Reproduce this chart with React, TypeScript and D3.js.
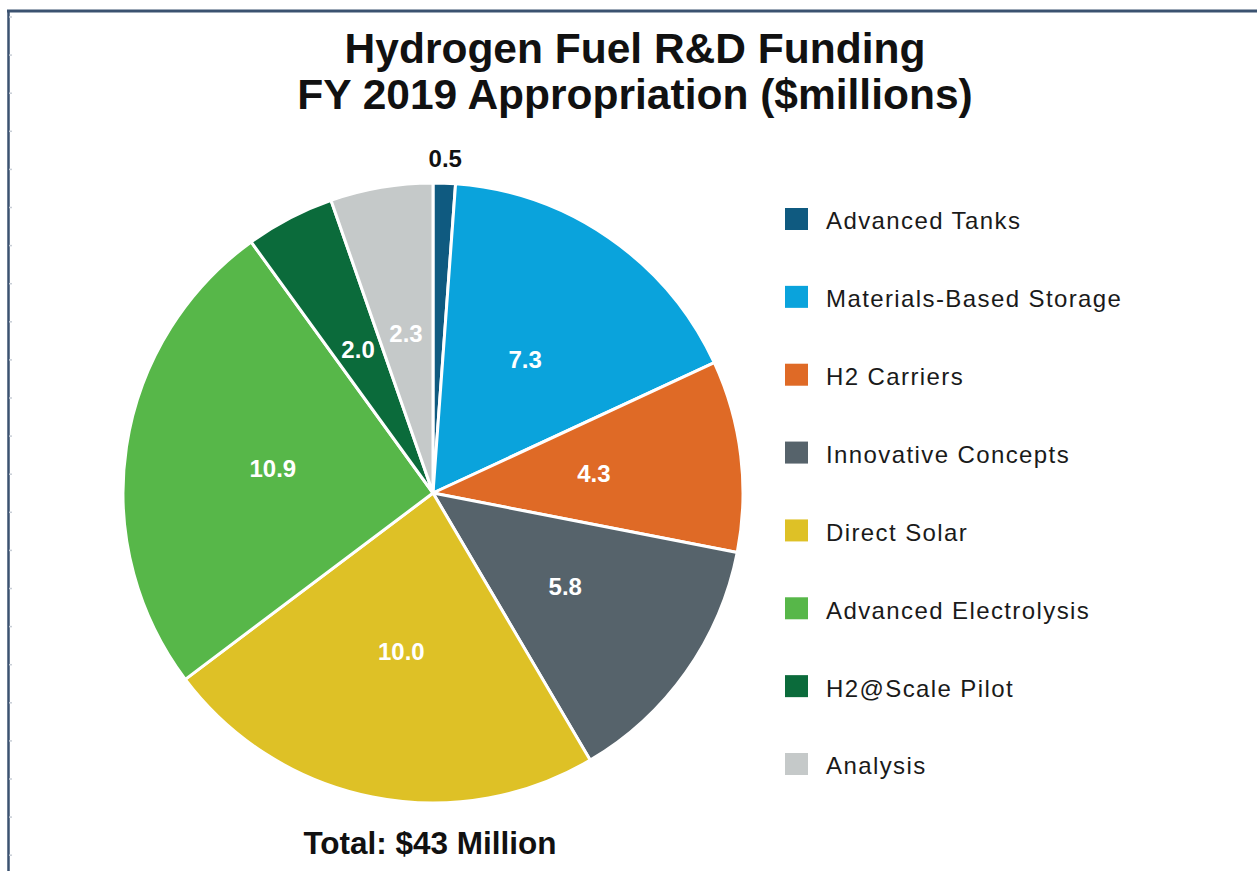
import React from "react";
import * as d3 from "d3";

const categories = [
  "Advanced Tanks",
  "Materials-Based Storage",
  "H2 Carriers",
  "Innovative Concepts",
  "Direct Solar",
  "Advanced Electrolysis",
  "H2@Scale Pilot",
  "Analysis",
];
const values = [0.5, 7.3, 4.3, 5.8, 10.0, 10.9, 2.0, 2.3];
const valueLabels = ["0.5", "7.3", "4.3", "5.8", "10.0", "10.9", "2.0", "2.3"];
const colors = ["#0f5a80", "#0aa3dc", "#df6a26", "#56636b", "#dec126", "#57b749", "#0b6b3b", "#c5c9c9"];
const titleLines = ["Hydrogen Fuel R&D Funding", "FY 2019 Appropriation ($millions)"];
const totalText = "Total: $43 Million";

const W = 1257;
const H = 871;
const cx = 433;
const cy = 493;
const R = 310;

export default function App() {
  const pie = d3.pie<number>().sort(null).value((d) => d);
  const arcs = pie(values);
  const arcGen = d3.arc<d3.PieArcDatum<number>>().innerRadius(0).outerRadius(R);
  const labelArc = d3.arc<d3.PieArcDatum<number>>().innerRadius(162).outerRadius(162);
  const outerArc = d3.arc<d3.PieArcDatum<number>>().innerRadius(335).outerRadius(335);
  const legendY = d3.scaleLinear().domain([0, categories.length - 1]).range([221, 766]);
  const ticks = d3.range(17, H, 38.1);

  return (
    <svg
      width={W}
      height={H}
      style={{ position: "absolute", left: 0, top: 0, background: "#fff" }}
      fontFamily="'Liberation Sans', Arial, sans-serif"
    >
      <rect x={0} y={0} width={W} height={H} fill="#fff" />
      {/* frame */}
      <line x1={8.5} y1={10} x2={8.5} y2={H} stroke="#3b5270" strokeWidth={2.5} />
      <line x1={7} y1={11} x2={W} y2={11} stroke="#3b5270" strokeWidth={3} />
      {ticks.map((t, i) => (
        <line key={i} x1={9} x2={12} y1={t} y2={t} stroke="#c8ced6" strokeWidth={1.5} />
      ))}
      {/* title */}
      {titleLines.map((t, i) => (
        <text
          key={i}
          x={635}
          y={63 + i * 46}
          textAnchor="middle"
          fontSize={42.5}
          fontWeight="bold"
          fill="#111"
        >
          {t}
        </text>
      ))}
      {/* pie */}
      <g transform={`translate(${cx},${cy})`}>
        {arcs.map((a, i) => (
          <path key={i} d={arcGen(a) || ""} fill={colors[i]} stroke="#fff" strokeWidth={3} strokeLinejoin="round" />
        ))}
        {arcs.map((a, i) => {
          const outside = a.value < 1;
          const [x, y] = outside ? outerArc.centroid(a) : labelArc.centroid(a);
          return (
            <text
              key={i}
              x={x}
              y={y}
              dy="0.35em"
              textAnchor="middle"
              fontSize={24}
              fontWeight="bold"
              fill={outside ? "#111" : "#fff"}
            >
              {valueLabels[i]}
            </text>
          );
        })}
      </g>
      {/* total */}
      <text x={430} y={854} textAnchor="middle" fontSize={31.5} fontWeight="bold" fill="#111">
        {totalText}
      </text>
      {/* legend */}
      {categories.map((c, i) => (
        <g key={c} transform={`translate(785,${legendY(i)})`}>
          <rect x={0} y={-13} width={23} height={22} fill={colors[i]} />
          <text x={41} y={0} dy="0.35em" fontSize={24} letterSpacing={1.4} fill="#1a1a1a">
            {c}
          </text>
        </g>
      ))}
    </svg>
  );
}
